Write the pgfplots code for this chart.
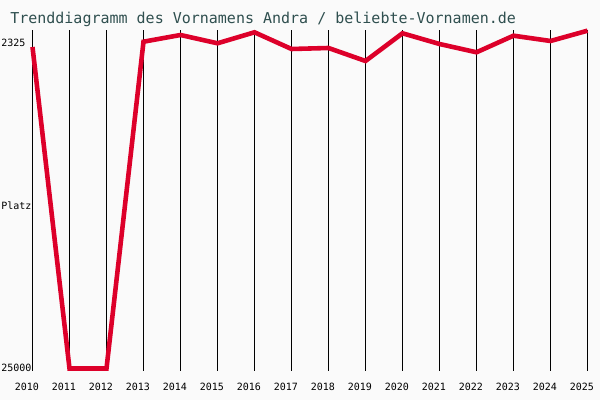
\documentclass[border=0pt]{standalone}
\usepackage{pgfplots}
\pgfplotsset{compat=1.18}
\usepackage{fontspec}
\setmainfont{DejaVu Sans Mono}
\setmonofont{DejaVu Sans Mono}
\definecolor{bg}{RGB}{250,250,250}
\definecolor{titlec}{RGB}{47,79,79}
\definecolor{linec}{RGB}{221,0,42}
\begin{document}
\begin{tikzpicture}
\fill[bg] (0pt,0pt) rectangle (432pt,-288pt);
\node[anchor=base west, text=titlec, font=\fontsize{10.8pt}{12pt}\selectfont, inner sep=0pt] at (7.2pt,-16.8pt) {Trenddiagramm des Vornamens Andra / beliebte-Vornamen.de};
\begin{axis}[
  at={(23.4pt,-267.12pt)}, anchor=south west,
  scale only axis, width=399.6pt, height=245.52pt,
  xmin=2010, xmax=2025, ymin=-371, ymax=-30,
  axis line style={draw=none},
  major tick length=0pt,
  xtick={2010,2011,...,2025}, xticklabels={},
  ytick=\empty,
  xmajorgrids, grid style={black, line width=0.72pt},
  clip=false,
]
\addplot[linec, line width=3.3pt, mark=none] coordinates {
(2010,-47) (2011,-368.5) (2012,-368.5) (2013,-41.7) (2014,-35) (2015,-43.3)
(2016,-32.3) (2017,-49) (2018,-48) (2019,-61) (2020,-33.3) (2021,-44)
(2022,-52.3) (2023,-35.7) (2024,-41) (2025,-30.7)
};
\pgfplotsinvokeforeach{2010,...,2025}{
  \node[anchor=base, inner sep=0pt, font=\fontsize{7.2pt}{8pt}\selectfont] at (axis cs:#1-0.154,-390.7) {#1};
}
\node[anchor=base west, inner sep=0pt, font=\fontsize{7.2pt}{8pt}\selectfont] at (axis cs:2009.149,-46.3) {2325};
\node[anchor=base west, inner sep=0pt, font=\fontsize{7.2pt}{8pt}\selectfont] at (axis cs:2009.149,-210) {Platz};
\node[anchor=base west, inner sep=0pt, font=\fontsize{7.2pt}{8pt}\selectfont] at (axis cs:2009.149,-371.3) {25000};
\end{axis}
\end{tikzpicture}
\end{document}
